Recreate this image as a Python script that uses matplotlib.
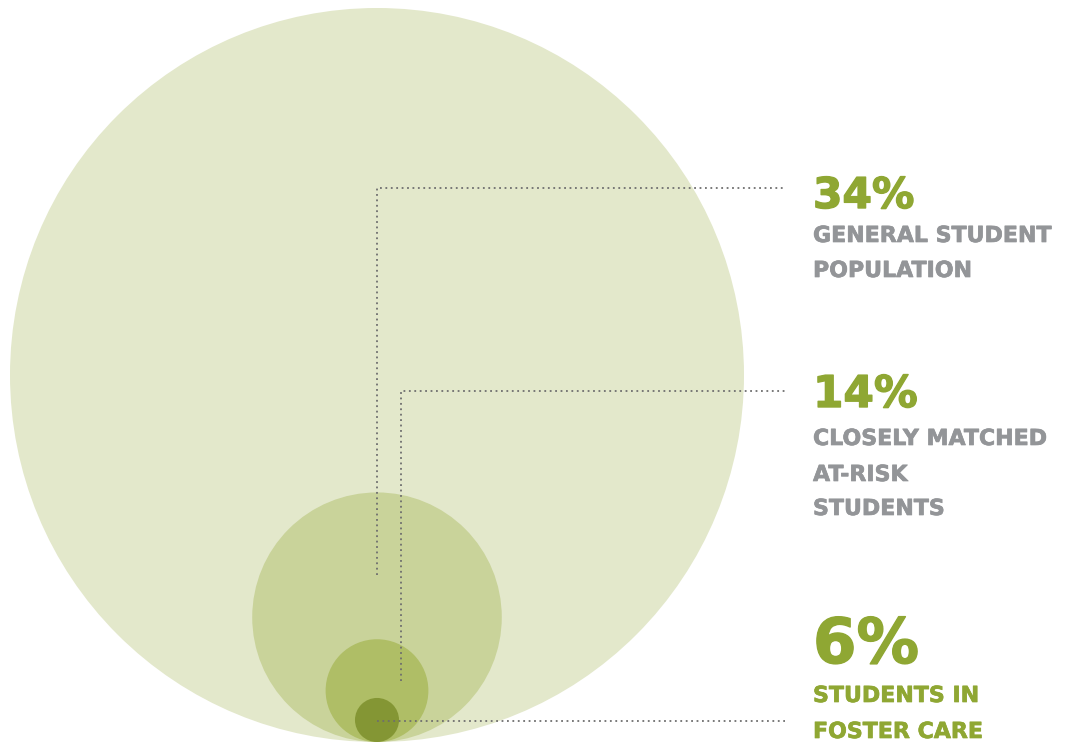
import matplotlib
matplotlib.use("Agg")
import matplotlib.pyplot as plt
from matplotlib.patches import Circle
import matplotlib.patheffects as pe

# ---- data ----
values = [100, 34, 14, 6]            # percent; circle radius proportional to value
pct_labels = ["34%", "14%", "6%"]
desc_labels = [["GENERAL STUDENT", "POPULATION"],
               ["CLOSELY MATCHED", "AT-RISK", "STUDENTS"],
               ["STUDENTS IN", "FOSTER CARE"]]

# ---- style / layout ----
circle_colors = ["#e3e8cb", "#c9d39a", "#afbe66", "#849634"]
green = "#8fa733"
gray = "#939598"
line_color = "#6e6e6e"

W, H = 1074, 742
fig = plt.figure(figsize=(W / 100, H / 100), dpi=100)
ax = fig.add_axes([0, 0, 1, 1])
ax.set_xlim(0, W)
ax.set_ylim(H, 0)
ax.set_aspect("equal")
ax.axis("off")

R = 367.0
cx = 377.0
bottom = 742.0
for v, c in zip(values, circle_colors):
    r = R * v / 100.0
    ax.add_patch(Circle((cx, bottom - r), r, facecolor=c, edgecolor="none", zorder=1))

# leader lines (layout)
tx = 813
line_end = 785
leaders = [
    [(377, 575), (377, 188), (line_end, 188)],
    [(401, 681), (401, 391), (line_end, 391)],
    [(377, 721), (line_end, 721)],
]
for pts in leaders:
    xs = [p[0] for p in pts]
    ys = [p[1] for p in pts]
    ax.plot(xs, ys, color=line_color, lw=1.3, linestyle=(0, (1, 2)), zorder=3,
            solid_capstyle="butt")

fam = "DejaVu Sans"
pct_sizes = [30.5, 31.5, 45]
pct_base = [208, 407, 663]
desc_base = [[242, 277], [445, 481, 515], [702, 738]]
desc_colors = [gray, gray, green]
for i in range(3):
    ax.text(tx, pct_base[i], pct_labels[i], fontsize=pct_sizes[i], fontweight="bold",
            color=green, family=fam, va="baseline", ha="left",
            path_effects=[pe.withStroke(linewidth=1.0, foreground=green)])
    for line, yb in zip(desc_labels[i], desc_base[i]):
        ax.text(tx, yb, line, fontsize=15.9, fontweight="bold", color=desc_colors[i],
                family=fam, va="baseline", ha="left",
                path_effects=[pe.withStroke(linewidth=0.5, foreground=desc_colors[i])])

fig.savefig("out.png", dpi=100)
